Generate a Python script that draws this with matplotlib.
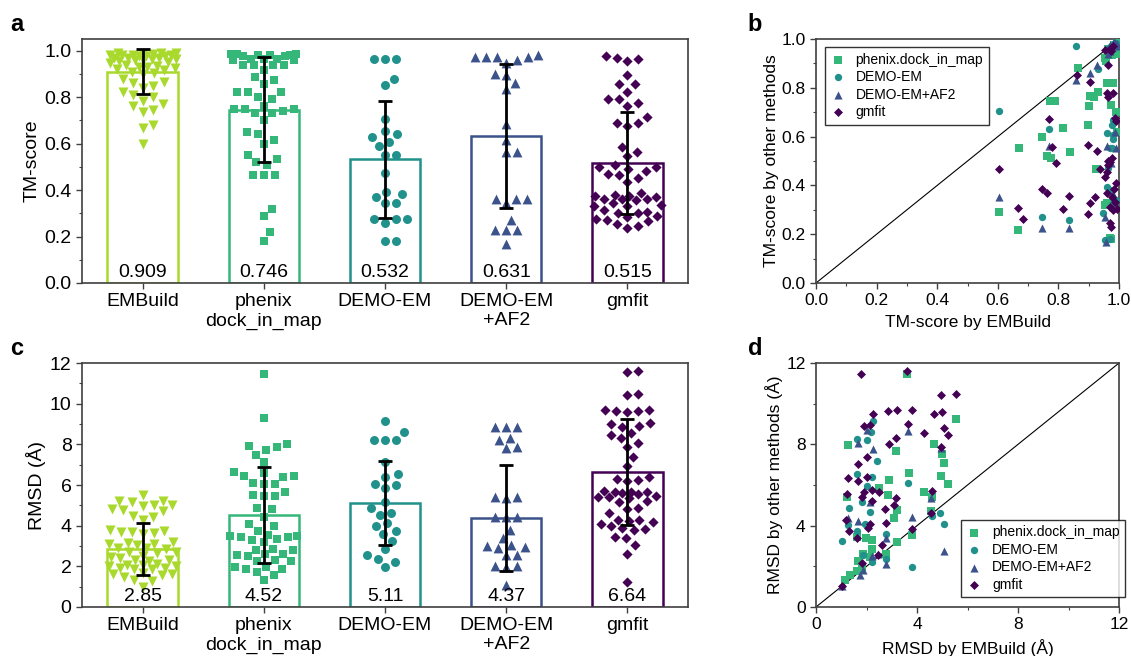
import numpy as np
import matplotlib
matplotlib.use("Agg")
import matplotlib.pyplot as plt
from matplotlib import ticker

plt.rcParams['font.family'] = ['Liberation Sans', 'DejaVu Sans']

# ---- data ----
methods = ["EMBuild", "phenix\ndock_in_map", "DEMO-EM", "DEMO-EM\n+AF2", "gmfit"]
colors = ['#a8d92c', '#35b779', '#21918c', '#3b528b', '#440154']
markers = ['v', 's', 'o', '^', 'D']

tm_mean = [0.909, 0.746, 0.532, 0.631, 0.515]
tm_sd = [0.097, 0.225, 0.252, 0.31, 0.22]
rmsd_mean = [2.85, 4.52, 5.11, 4.37, 6.64]
rmsd_sd = [1.28, 2.37, 2.07, 2.6, 2.63]

tm_embuild = [0.99, 0.99, 0.99, 0.985, 0.985, 0.98, 0.98, 0.98, 0.98, 0.975, 0.975, 0.975,
              0.97, 0.97, 0.97, 0.965, 0.965, 0.96, 0.96, 0.955, 0.95, 0.945, 0.94, 0.935,
              0.93, 0.93, 0.925, 0.92, 0.915, 0.91, 0.905, 0.90, 0.88, 0.865, 0.86, 0.85,
              0.84, 0.82, 0.81, 0.80, 0.785, 0.77, 0.76, 0.745, 0.735, 0.68, 0.665, 0.60]
tm_phenix = [0.985, 0.985, 0.985, 0.98, 0.98, 0.98, 0.975, 0.975, 0.965, 0.965, 0.965, 0.96,
             0.96, 0.94, 0.94, 0.94, 0.94, 0.915, 0.885, 0.875, 0.855, 0.82, 0.82, 0.82,
             0.80, 0.79, 0.76, 0.75, 0.75, 0.75, 0.74, 0.73, 0.73, 0.70, 0.65, 0.64, 0.615,
             0.60, 0.55, 0.535, 0.52, 0.51, 0.465, 0.465, 0.465, 0.32, 0.29, 0.22, 0.18]
tm_demo = [0.965, 0.965, 0.965, 0.876, 0.852, 0.705, 0.654, 0.641, 0.627, 0.607, 0.59,
           0.551, 0.551, 0.472, 0.39, 0.382, 0.372, 0.343, 0.343, 0.274, 0.274, 0.274,
           0.26, 0.18, 0.18]
tm_af2 = [0.98, 0.971, 0.971, 0.971, 0.971, 0.96, 0.948, 0.9, 0.895, 0.862, 0.834, 0.684,
          0.615, 0.565, 0.565, 0.362, 0.362, 0.362, 0.343, 0.271, 0.23, 0.228, 0.228, 0.166]
tm_gmfit = [0.975, 0.97, 0.965, 0.955, 0.895, 0.855, 0.855, 0.823, 0.79, 0.79, 0.775, 0.76,
            0.715, 0.69, 0.69, 0.675, 0.585, 0.565, 0.545, 0.51, 0.5, 0.5, 0.49, 0.48, 0.47,
            0.465, 0.45, 0.436, 0.386, 0.38, 0.375, 0.375, 0.37, 0.36, 0.36, 0.36, 0.357,
            0.343, 0.335, 0.33, 0.33, 0.315, 0.305, 0.3, 0.3, 0.29, 0.285, 0.275, 0.27,
            0.265, 0.255, 0.245, 0.235]

rmsd_embuild = [5.5, 5.2, 5.2, 5.15, 5.0, 5.0, 4.95, 4.8, 4.75, 4.7, 4.5, 4.45, 4.27, 3.8,
                3.75, 3.7, 3.7, 3.65, 3.6, 3.2, 3.15, 3.1, 3.1, 3.05, 2.9, 2.88, 2.85, 2.7,
                2.7, 2.65, 2.5, 2.45, 2.4, 2.3, 2.3, 2.25, 2.1, 2.05, 2.05, 2.0, 2.0, 1.9,
                1.9, 1.85, 1.85, 1.65, 1.6, 1.6, 1.55, 1.5, 1.35, 1.3, 1.0]
rmsd_phenix = [11.47, 9.29, 8.02, 7.9, 7.85, 7.73, 7.48, 7.12, 6.62, 6.58, 6.44, 6.42, 6.4,
               6.1, 6.05, 6.03, 5.67, 5.5, 5.48, 5.45, 4.85, 4.8, 4.44, 4.08, 3.98, 3.75,
               3.53, 3.5, 3.48, 3.45, 3.42, 3.32, 3.3, 3.2, 2.83, 2.8, 2.78, 2.63, 2.6, 2.55,
               2.52, 2.3, 2.28, 2.25, 1.97, 1.95, 1.89, 1.87, 1.73, 1.56, 1.32]
rmsd_demo = [9.16, 8.6, 8.22, 8.22, 8.2, 7.15, 6.53, 6.41, 6.03, 6.0, 5.84, 5.18, 4.85, 4.6,
             4.52, 4.11, 4.0, 3.75, 3.57, 3.26, 2.83, 2.55, 2.38, 2.22, 1.97]
rmsd_af2 = [8.84, 8.84, 8.84, 8.3, 8.2, 7.85, 7.8, 5.4, 5.4, 5.38, 4.44, 4.42, 4.44, 3.78,
            3.4, 3.04, 3.0, 2.95, 2.9, 2.55, 2.55, 2.0, 2.0, 1.97, 1.07]
rmsd_gmfit = [11.6, 11.55, 10.5, 10.45, 9.7, 9.7, 9.65, 9.65, 9.6, 9.05, 9.0, 8.9, 8.85,
              8.55, 8.45, 8.3, 8.05, 7.85, 7.4, 6.95, 6.41, 6.3, 6.25, 6.2, 5.7, 5.68, 5.67,
              5.65, 5.6, 5.55, 5.45, 5.42, 5.4, 5.35, 5.2, 5.15, 4.85, 4.8, 4.6, 4.3, 4.27,
              4.25, 4.2, 4.1, 4.0, 3.9, 3.85, 3.8, 3.45, 3.4, 3.04, 2.63, 1.23]

# panel b: (TM by EMBuild, TM by other method)
b_phenix_x = [0.995, 0.985, 0.987, 0.976, 0.954, 0.958, 0.864, 0.959, 0.97, 0.932, 0.904,
              0.917, 0.772, 0.789, 0.901, 0.973, 0.99, 0.814, 0.897, 0.994, 0.745, 0.671,
              0.838, 0.761, 0.775, 0.924, 0.605, 0.665, 0.959, 0.97, 0.975, 0.998, 0.99,
              0.965, 0.98, 0.955]
b_phenix_y = [0.985, 0.975, 0.945, 0.934, 0.921, 0.908, 0.882, 0.821, 0.818, 0.784, 0.766,
              0.761, 0.747, 0.747, 0.725, 0.73, 0.702, 0.637, 0.648, 0.62, 0.6, 0.553,
              0.538, 0.522, 0.511, 0.466, 0.289, 0.218, 0.327, 0.183, 0.18, 0.94, 0.96,
              0.96, 0.82, 0.32]
b_demo_x = [0.858, 0.605, 0.932, 0.985, 0.975, 0.77, 0.745, 0.836, 0.981, 0.976, 0.959,
            0.981, 0.981, 0.976, 0.97, 0.959, 0.97, 0.948, 0.954, 0.97, 0.981, 0.99, 0.965,
            0.99]
b_demo_y = [0.971, 0.705, 0.876, 0.965, 0.97, 0.63, 0.272, 0.258, 0.668, 0.648, 0.613,
            0.608, 0.59, 0.552, 0.555, 0.395, 0.38, 0.286, 0.176, 0.179, 0.327, 0.34, 0.47,
            0.985]
b_af2_x = [0.97, 0.985, 0.96, 0.99, 0.858, 0.904, 0.928, 0.77, 0.987, 0.99, 0.605, 0.745,
           0.836, 0.954, 0.957, 0.987, 0.975, 0.965, 0.98, 0.995, 0.97, 0.96]
b_af2_y = [0.975, 0.99, 0.96, 0.97, 0.832, 0.859, 0.893, 0.561, 0.62, 0.552, 0.354, 0.224,
           0.224, 0.272, 0.169, 0.333, 0.49, 0.94, 0.365, 0.98, 0.95, 0.56]
b_gmfit_x = [0.965, 0.904, 0.862, 0.959, 0.981, 0.965, 0.77, 0.987, 0.778, 0.792, 0.899,
             0.928, 0.976, 0.97, 0.965, 0.959, 0.954, 0.937, 0.745, 0.763, 0.836, 0.814,
             0.904, 0.921, 0.899, 0.959, 0.983, 0.976, 0.987, 0.97, 0.981, 0.992, 0.97,
             0.973, 0.99, 0.605, 0.668, 0.683, 0.955, 0.97, 0.98, 0.99, 0.965, 0.975]
b_gmfit_y = [0.893, 0.825, 0.852, 0.777, 0.78, 0.764, 0.671, 0.675, 0.556, 0.493, 0.566,
             0.542, 0.511, 0.497, 0.484, 0.456, 0.436, 0.466, 0.384, 0.37, 0.357, 0.303,
             0.327, 0.354, 0.281, 0.368, 0.384, 0.354, 0.333, 0.313, 0.299, 0.302, 0.245,
             0.231, 0.409, 0.466, 0.309, 0.261, 0.955, 0.96, 0.97, 0.665, 0.5, 0.95]

# panel d: (RMSD by EMBuild, RMSD by other method)
d_phenix_x = [3.62, 5.53, 4.67, 1.25, 3.17, 4.98, 5.08, 3.68, 4.94, 5.21, 2.9, 2.49, 4.28,
              2.84, 1.22, 4.58, 3.2, 3.09, 4.54, 3.79, 3.2, 1.98, 2.2, 1.61, 2.2, 1.85, 2.77,
              1.68, 1.61, 1.35, 1.15, 1.81, 2.12]
d_phenix_y = [11.47, 9.26, 8.02, 7.97, 7.69, 7.51, 7.1, 6.61, 6.46, 6.05, 6.25, 5.87, 5.67,
              5.51, 5.43, 5.39, 4.77, 4.36, 4.72, 3.53, 3.21, 3.37, 3.29, 3.45, 2.84, 2.63,
              2.63, 2.27, 1.78, 1.56, 1.32, 1.97, 2.47]
d_demo_x = [1.02, 1.61, 2.03, 2.27, 2.17, 2.41, 1.64, 2.2, 2.03, 1.81, 2.14, 1.32, 1.28,
            1.94, 1.61, 3.66, 4.91, 5.08, 4.58, 3.82, 2.77, 2.77, 2.2, 1.85]
d_demo_y = [3.25, 8.25, 8.22, 9.16, 8.63, 7.18, 6.53, 6.41, 5.97, 5.15, 4.69, 4.85, 4.03,
            4.08, 3.75, 6.12, 4.6, 4.08, 4.49, 1.97, 3.57, 2.38, 2.22, 2.58]
d_af2_x = [1.65, 2.03, 2.24, 3.66, 4.94, 2.12, 1.28, 1.65, 3.82, 4.54, 2.77, 2.77, 2.2,
           2.44, 5.08, 1.74, 1.02, 1.85]
d_af2_y = [8.06, 8.71, 7.76, 8.66, 7.81, 5.15, 4.36, 4.24, 4.44, 5.34, 3.37, 2.1, 2.5,
           2.63, 2.75, 1.56, 1.02, 1.84]
d_gmfit_x = [1.78, 3.62, 4.94, 5.53, 2.27, 2.84, 3.22, 3.82, 4.67, 5.0, 1.92, 2.14, 3.66,
             5.08, 3.17, 4.28, 5.21, 2.9, 4.94, 2.03, 1.65, 1.28, 2.03, 1.65, 1.22, 1.92,
             2.49, 2.2, 1.81, 2.2, 3.17, 3.09, 2.73, 4.58, 1.19, 1.32, 2.14, 2.07, 2.77,
             1.61, 3.82, 4.54, 2.44, 2.6, 1.81, 1.02]
d_gmfit_y = [11.47, 11.59, 10.44, 10.49, 9.5, 9.62, 9.67, 9.67, 9.49, 9.58, 8.91, 8.96,
             9.01, 8.8, 8.3, 8.55, 8.47, 8.02, 7.86, 7.4, 7.02, 6.33, 6.41, 6.2, 5.54, 5.67,
             5.64, 5.75, 5.43, 5.21, 5.34, 5.01, 4.82, 5.72, 4.27, 3.75, 4.08, 3.91, 4.14,
             3.37, 3.83, 4.64, 2.58, 3.07, 2.14, 1.02]

scatter_labels = ["phenix.dock_in_map", "DEMO-EM", "DEMO-EM+AF2", "gmfit"]

# ---- helpers ----
SPINE = '#404040'


def swarm_offsets(ax, vals, d, maxw):
    # beeswarm in pixels; where a row is too crowded to fit inside the bar,
    # that point alone is allowed to overlap its neighbours
    ys = ax.transData.transform(np.column_stack([np.zeros(len(vals)), vals]))[:, 1]
    x0, x1 = ax.get_xlim()
    px_per_unit = ax.bbox.width / (x1 - x0)
    lim = maxw * px_per_unit
    placed = []
    offs = np.zeros(len(ys))
    for i in np.argsort(ys):
        y = ys[i]
        di = d
        while True:
            cands = [0.0]
            for px, py in placed:
                dy = y - py
                if abs(dy) < di:
                    dx = np.sqrt(di * di - dy * dy)
                    cands += [px + dx, px - dx]
            ok = [c for c in sorted(cands, key=abs) if abs(c) <= lim and
                  all((c - px) ** 2 + (y - py) ** 2 >= di * di - 1e-6 for px, py in placed)]
            if ok or di < 2:
                offs[i] = ok[0] if ok else 0.0
                break
            di -= 1.0
        placed.append((offs[i], y))
    return offs / px_per_unit


def style(ax, fs):
    for s in ax.spines.values():
        s.set_color(SPINE)
        s.set_linewidth(1.2)
    ax.tick_params(which='both', direction='out', color=SPINE, labelsize=fs)
    ax.tick_params(which='major', length=4, width=1)
    ax.tick_params(which='minor', length=2.5, width=0.8)


def bar_panel(ax, means, sds, groups, ylim, ylabel, major, minor, fmt, swarm_s):
    x = np.arange(len(methods))
    ax.set_xlim(-0.5, len(methods) - 0.5)
    ax.set_ylim(*ylim)
    ax.bar(x, means, width=0.58, facecolor='white', edgecolor=colors, linewidth=1.8, zorder=1)
    for i, vals in enumerate(groups):
        off = swarm_offsets(ax, vals, 11, 0.28)
        ax.scatter(i + off, vals, marker=markers[i], s=swarm_s[i], color=colors[i],
                   linewidths=0, zorder=3)
    ax.errorbar(x, means, yerr=sds, fmt='none', ecolor='black', elinewidth=2,
                capsize=5, capthick=2, zorder=4)
    for i, m in enumerate(means):
        ax.text(i, 0.043, fmt % m, transform=ax.get_xaxis_transform(), ha='center',
                va='center', fontsize=14, zorder=5)
    ax.set_xticks(x)
    ax.set_xticklabels(methods, linespacing=1.15)
    ax.yaxis.set_major_locator(ticker.MultipleLocator(major))
    ax.yaxis.set_minor_locator(ticker.MultipleLocator(minor))
    ax.set_ylabel(ylabel, fontsize=14, labelpad=3)
    style(ax, 14)


def scatter_panel(ax, xs, ys, lim, major, minor, xlabel, ylabel, legend_kw):
    ax.set_xlim(*lim)
    ax.set_ylim(*lim)
    ax.plot(lim, lim, color='black', lw=0.8, zorder=1)
    sizes = [26, 28, 34, 21]
    for k in range(4):
        ax.scatter(xs[k], ys[k], marker=markers[k + 1], s=sizes[k], color=colors[k + 1],
                   linewidths=0, label=scatter_labels[k], zorder=3)
    for a in (ax.xaxis, ax.yaxis):
        a.set_major_locator(ticker.MultipleLocator(major))
        a.set_minor_locator(ticker.MultipleLocator(minor))
    ax.set_xlabel(xlabel, fontsize=12.5, labelpad=5)
    ax.set_ylabel(ylabel, fontsize=12.5, labelpad=2)
    style(ax, 12.5)
    leg = ax.legend(fontsize=10, frameon=True, fancybox=False, edgecolor='black',
                    handlelength=1.0, handletextpad=0.8, labelspacing=0.25,
                    borderpad=0.4, borderaxespad=0, **legend_kw)
    leg.get_frame().set_linewidth(1.0)


fig = plt.figure(figsize=(11.31, 6.56), dpi=100)
ax_a = fig.add_axes([0.0725, 0.5686, 0.5358, 0.3719])
ax_c = fig.add_axes([0.0725, 0.0747, 0.5358, 0.3719])
ax_b = fig.add_axes([0.7215, 0.5686, 0.2679, 0.3719])
ax_d = fig.add_axes([0.7215, 0.0747, 0.2679, 0.3719])

swarm_sizes = [52, 33, 42, 50, 27]
bar_panel(ax_a, tm_mean, tm_sd, [tm_embuild, tm_phenix, tm_demo, tm_af2, tm_gmfit],
          (0, 1.05), 'TM-score', 0.2, 0.1, '%.3f', swarm_sizes)
bar_panel(ax_c, rmsd_mean, rmsd_sd, [rmsd_embuild, rmsd_phenix, rmsd_demo, rmsd_af2, rmsd_gmfit],
          (0, 12), 'RMSD (Å)', 2, 1, '%.2f', swarm_sizes)

scatter_panel(ax_b, [b_phenix_x, b_demo_x, b_af2_x, b_gmfit_x],
              [b_phenix_y, b_demo_y, b_af2_y, b_gmfit_y], (0, 1), 0.2, 0.1,
              'TM-score by EMBuild', 'TM-score by other methods',
              dict(loc='upper left', bbox_to_anchor=(0.03, 0.967)))
scatter_panel(ax_d, [d_phenix_x, d_demo_x, d_af2_x, d_gmfit_x],
              [d_phenix_y, d_demo_y, d_af2_y, d_gmfit_y], (0, 12), 4, 2,
              'RMSD by EMBuild (Å)', 'RMSD by other methods (Å)',
              dict(loc='lower right', bbox_to_anchor=(1.02, 0.04)))

for letter, (fx, fy) in zip('abcd', [(0.009, 0.962), (0.661, 0.963), (0.009, 0.468), (0.661, 0.469)]):
    fig.text(fx, fy, letter, fontsize=17, fontweight='bold', va='center', ha='left')

fig.savefig('out.png', dpi=100)
